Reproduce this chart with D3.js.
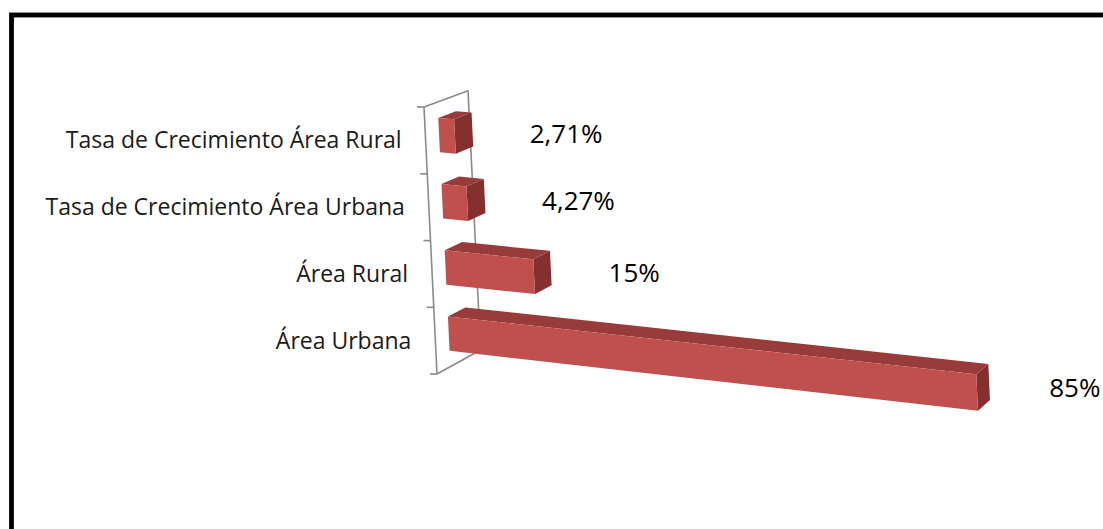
<!DOCTYPE html>
<html>
<head>
    <meta charset="utf-8">
    <title>Área urbana y rural</title>
    <script src="https://d3js.org/d3.v7.min.js"></script>
    <style>
        body { margin: 0; background: #fff; }
        svg { display: block; }
        .cat-label { font-family: "Open Sans", sans-serif; font-size: 23px; fill: #1a1a1a; }
        .val-label { font-family: "Open Sans", sans-serif; font-size: 26px; fill: #000; }
        .wall line { stroke: #8a8a8a; stroke-width: 1.6; fill: none; }
    </style>
</head>
<body>
    <script>
        // Data
        const categories = ["Tasa de Crecimiento Área Rural", "Tasa de Crecimiento Área Urbana", "Área Rural", "Área Urbana"];
        const values = [0.0271, 0.0427, 0.15, 0.85];
        const valueMax = 0.9;

        const width = 1103;
        const height = 529;

        const svg = d3.select("body").append("svg")
            .attr("width", width)
            .attr("height", height);

        // scales (unit space, projected below)
        const uScale = d3.scaleLinear().domain([0, valueMax]).range([0, 1]);
        const cScale = d3.scaleBand()
            .domain(categories)
            .range([0, 1])
            .paddingInner(0.48)
            .paddingOuter(0.24);
        const zFront = 0.3, zBack = 0.7;

        // 3d projection: front plane homography + depth vanishing point
        const quad = [[424, 107], [990, 155], [1003, 440], [437, 374]]; // (u,c) = (0,0) (1,0) (1,1) (0,1)
        const vp = [1950, -460];
        const kDepth = 0.0297;

        function homography(q) {
            const [x0, y0] = q[0], [x1, y1] = q[1], [x2, y2] = q[2], [x3, y3] = q[3];
            const dx1 = x1 - x2, dx2 = x3 - x2, dx3 = x0 - x1 + x2 - x3;
            const dy1 = y1 - y2, dy2 = y3 - y2, dy3 = y0 - y1 + y2 - y3;
            const den = dx1 * dy2 - dy1 * dx2;
            const g = (dx3 * dy2 - dy3 * dx2) / den;
            const h = (dx1 * dy3 - dy1 * dx3) / den;
            return {
                a: x1 - x0 + g * x1, b: x3 - x0 + h * x3, c: x0,
                d: y1 - y0 + g * y1, e: y3 - y0 + h * y3, f: y0,
                g: g, h: h
            };
        }
        const H = homography(quad);

        function project(u, c, z) {
            const X = H.a * u + H.b * c + H.c + kDepth * z * vp[0];
            const Y = H.d * u + H.e * c + H.f + kDepth * z * vp[1];
            const W = H.g * u + H.h * c + 1 + kDepth * z;
            return [X / W, Y / W];
        }

        const poly = pts => "M" + pts.map(p => p.join(",")).join("L") + "Z";

        // chart border
        svg.append("rect")
            .attr("x", 11.5)
            .attr("y", 15)
            .attr("width", 1300)
            .attr("height", 700)
            .attr("fill", "none")
            .attr("stroke", "#000")
            .attr("stroke-width", 4.8);

        // side wall outline
        const wall = svg.append("g").attr("class", "wall");
        const wallEdges = [
            [[0, 0, 0], [0, 1, 0]],
            [[0, 0, 0], [0, 0, 1]],
            [[0, 0, 1], [0, 1, 1]],
            [[0, 1, 0], [0, 1, 1]]
        ];
        wall.selectAll("line.edge")
            .data(wallEdges)
            .enter()
            .append("line")
            .attr("class", "edge")
            .attr("x1", d => project(...d[0])[0])
            .attr("y1", d => project(...d[0])[1])
            .attr("x2", d => project(...d[1])[0])
            .attr("y2", d => project(...d[1])[1]);

        // category ticks
        const tickPos = d3.range(categories.length + 1).map(i => i / categories.length);
        wall.selectAll("line.tick")
            .data(tickPos)
            .enter()
            .append("line")
            .attr("class", "tick")
            .attr("x1", d => project(0, d, 0)[0] - 7)
            .attr("y1", d => project(0, d, 0)[1])
            .attr("x2", d => project(0, d, 0)[0])
            .attr("y2", d => project(0, d, 0)[1]);

        // category labels
        svg.selectAll("text.cat-label")
            .data(categories)
            .enter()
            .append("text")
            .attr("class", "cat-label")
            .attr("text-anchor", "end")
            .attr("dy", "0.35em")
            .attr("x", d => project(0, cScale(d) + cScale.bandwidth() / 2, 0)[0] - 24)
            .attr("y", d => project(0, cScale(d) + cScale.bandwidth() / 2, 0)[1])
            .text(d => d);

        // bars as 3d boxes
        const bars = categories.map((cat, i) => {
            const u = uScale(values[i]);
            const ct = cScale(cat), cb = ct + cScale.bandwidth();
            return {
                side: [project(u, ct, zFront), project(u, ct, zBack), project(u, cb, zBack), project(u, cb, zFront)],
                top: [project(0, ct, zFront), project(u, ct, zFront), project(u, ct, zBack), project(0, ct, zBack)],
                front: [project(0, ct, zFront), project(u, ct, zFront), project(u, cb, zFront), project(0, cb, zFront)]
            };
        });

        const barG = svg.selectAll("g.bar")
            .data(bars)
            .enter()
            .append("g")
            .attr("class", "bar");
        barG.append("path").attr("d", d => poly(d.side)).attr("fill", "#84302e");
        barG.append("path").attr("d", d => poly(d.top)).attr("fill", "#973c3a");
        barG.append("path").attr("d", d => poly(d.front)).attr("fill", "#c0504d");

        // value labels
        const locale = d3.formatLocale({ decimal: ",", thousands: ".", grouping: [3], currency: ["", "€"] });
        const fmt = locale.format(".2~%");
        svg.selectAll("text.val-label")
            .data(categories)
            .enter()
            .append("text")
            .attr("class", "val-label")
            .attr("dy", "0.35em")
            .attr("x", (d, i) => project(uScale(values[i]), cScale(d) + cScale.bandwidth() / 2, 0.5)[0] + 66)
            .attr("y", (d, i) => project(uScale(values[i]), cScale(d) + cScale.bandwidth() / 2, 0.5)[1] + 1)
            .text((d, i) => fmt(values[i]));
    </script>
</body>
</html>
